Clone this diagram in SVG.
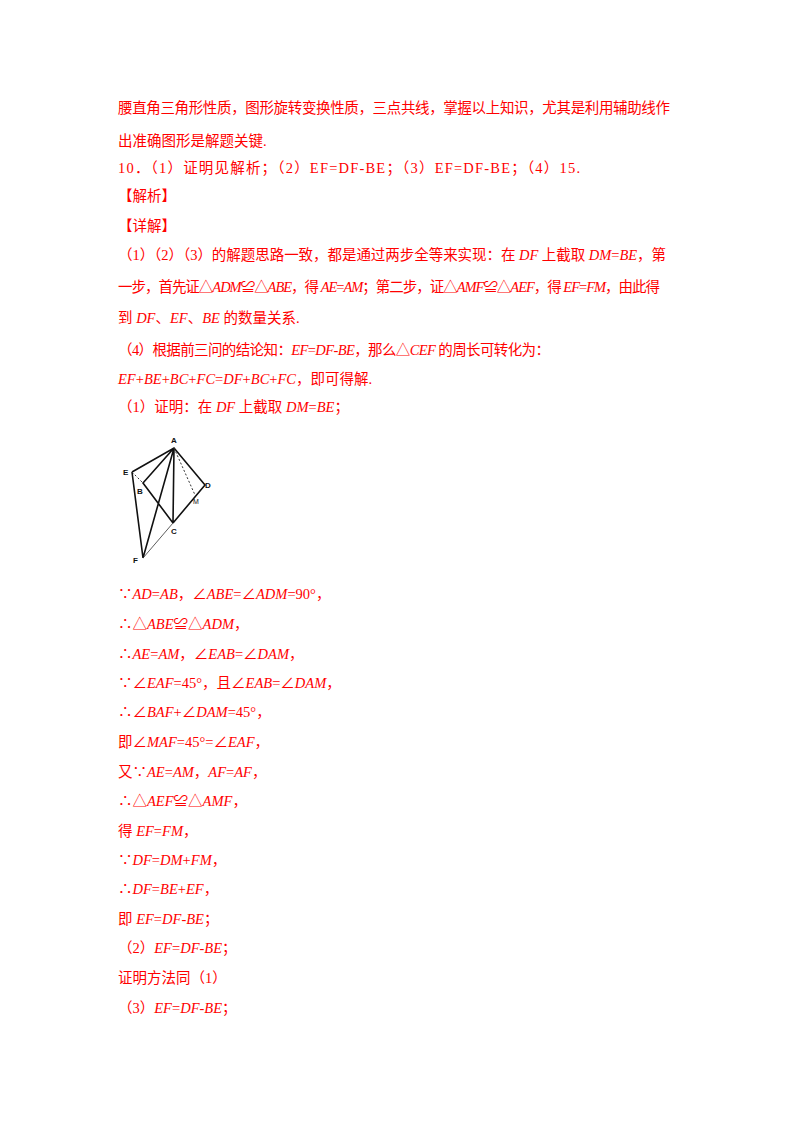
<svg xmlns="http://www.w3.org/2000/svg" width="800" height="1132" viewBox="0 0 800 1132">
<style>
text{font-family:"Liberation Serif","Noto Sans CJK SC",serif;font-size:14.5px;fill:#f00}
.i{font-style:italic}
.l{stroke:#111;stroke-width:1.6;fill:none}
.t{stroke:#333;stroke-width:0.8;fill:none}
.d{stroke:#333;stroke-width:1;stroke-dasharray:2,2;fill:none}
.g{font-family:"Liberation Sans",sans-serif;font-size:8px;font-weight:bold;fill:#111}
</style>
<rect width="800" height="1132" fill="#fff"/>
<g id="text">
<text x="118" y="113" textLength="552">腰直角三角形性质，图形旋转变换性质，三点共线，掌握以上知识，尤其是利用辅助线作</text>
<text x="118" y="146">出准确图形是解题关键.</text>
<text x="118" y="173" textLength="462">10．（1）证明见解析；（2）EF=DF-BE；（3）EF=DF-BE；（4）15.</text>
<text x="118" y="201">【解析】</text>
<text x="118" y="231">【详解】</text>
<text x="118" y="260" textLength="548">（1）（2）（3）的解题思路一致，都是通过两步全等来实现：在 <tspan class="i">DF</tspan> 上截取 <tspan class="i">DM</tspan>=<tspan class="i">BE</tspan>，第</text>
<text x="118" y="292" textLength="542">一步，首先证△<tspan class="i">ADM</tspan>≌△<tspan class="i">ABE</tspan>，得 <tspan class="i">AE</tspan>=<tspan class="i">AM</tspan>；第二步，证△<tspan class="i">AMF</tspan>≌△<tspan class="i">AEF</tspan>，得 <tspan class="i">EF</tspan>=<tspan class="i">FM</tspan>，由此得</text>
<text x="118" y="323">到 <tspan class="i">DF</tspan>、<tspan class="i">EF</tspan>、<tspan class="i">BE</tspan> 的数量关系.</text>
<text x="118" y="355" textLength="432">（4）根据前三问的结论知：<tspan class="i">EF</tspan>=<tspan class="i">DF</tspan>-<tspan class="i">BE</tspan>，那么△<tspan class="i">CEF</tspan> 的周长可转化为：</text>
<text x="118" y="384"><tspan class="i">EF</tspan>+<tspan class="i">BE</tspan>+<tspan class="i">BC</tspan>+<tspan class="i">FC</tspan>=<tspan class="i">DF</tspan>+<tspan class="i">BC</tspan>+<tspan class="i">FC</tspan>，即可得解.</text>
<text x="118" y="412">（1）证明：在 <tspan class="i">DF</tspan> 上截取 <tspan class="i">DM</tspan>=<tspan class="i">BE</tspan>；</text>
<text x="118" y="599">∵<tspan class="i">AD</tspan>=<tspan class="i">AB</tspan>，∠<tspan class="i">ABE</tspan>=∠<tspan class="i">ADM</tspan>=90°，</text>
<text x="118" y="629">∴△<tspan class="i">ABE</tspan>≌△<tspan class="i">ADM</tspan>，</text>
<text x="118" y="659">∴<tspan class="i">AE</tspan>=<tspan class="i">AM</tspan>，∠<tspan class="i">EAB</tspan>=∠<tspan class="i">DAM</tspan>，</text>
<text x="118" y="688">∵∠<tspan class="i">EAF</tspan>=45°，且∠<tspan class="i">EAB</tspan>=∠<tspan class="i">DAM</tspan>，</text>
<text x="118" y="717">∴∠<tspan class="i">BAF</tspan>+∠<tspan class="i">DAM</tspan>=45°，</text>
<text x="118" y="747">即∠<tspan class="i">MAF</tspan>=45°=∠<tspan class="i">EAF</tspan>，</text>
<text x="118" y="777">又∵<tspan class="i">AE</tspan>=<tspan class="i">AM</tspan>，<tspan class="i">AF</tspan>=<tspan class="i">AF</tspan>，</text>
<text x="118" y="806">∴△<tspan class="i">AEF</tspan>≌△<tspan class="i">AMF</tspan>，</text>
<text x="118" y="836">得 <tspan class="i">EF</tspan>=<tspan class="i">FM</tspan>，</text>
<text x="118" y="865">∵<tspan class="i">DF</tspan>=<tspan class="i">DM</tspan>+<tspan class="i">FM</tspan>，</text>
<text x="118" y="894">∴<tspan class="i">DF</tspan>=<tspan class="i">BE</tspan>+<tspan class="i">EF</tspan>，</text>
<text x="118" y="924">即 <tspan class="i">EF</tspan>=<tspan class="i">DF</tspan>-<tspan class="i">BE</tspan>；</text>
<text x="118" y="953">（2）<tspan class="i">EF</tspan>=<tspan class="i">DF</tspan>-<tspan class="i">BE</tspan>；</text>
<text x="118" y="983">证明方法同（1）</text>
<text x="118" y="1013">（3）<tspan class="i">EF</tspan>=<tspan class="i">DF</tspan>-<tspan class="i">BE</tspan>；</text>
</g>
<g id="figure">
<path class="l" d="M132,472 L174,448 L205,485 L173,523 M174,448 L143,483 L173,523 M174,448 L173,523 M174,448 L143,558 M132,472 L143,558"/>
<path class="t" d="M173,523 L143,558"/>
<path class="d" d="M132,472 L143,483 M174,448 L195,495"/>
<text class="g" x="171" y="443">A</text>
<text class="g" x="123" y="475">E</text>
<text class="g" x="137" y="494">B</text>
<text class="g" x="205" y="488">D</text>
<text class="g" x="193" y="504" style="font-weight:normal;font-size:7px">M</text>
<text class="g" x="171" y="534">C</text>
<text class="g" x="133" y="563">F</text>
</g>
</svg>
